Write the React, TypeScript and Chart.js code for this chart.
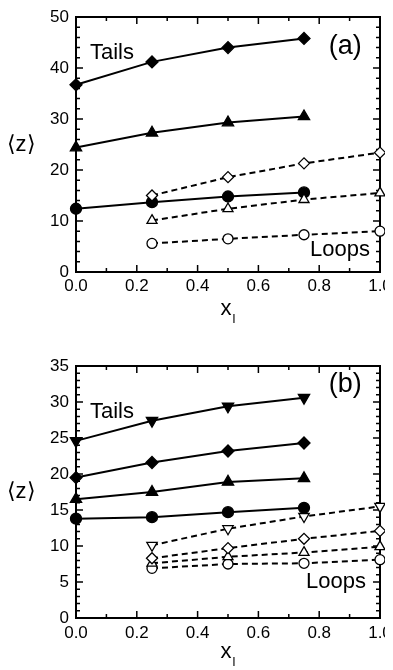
import React, { useEffect, useRef } from "react";
import { Chart, registerables } from "chart.js";

Chart.register(...registerables);

// ---------- data ----------
const X_TAILS = [0, 0.25, 0.5, 0.75];
const X_LOOPS = [0.25, 0.5, 0.75, 1.0];

// panel (a)
const A_TAILS_DIAMOND = [36.7, 41.2, 44.0, 45.8];
const A_TAILS_TRIANGLE = [24.4, 27.3, 29.3, 30.5];
const A_TAILS_CIRCLE = [12.4, 13.7, 14.8, 15.6];
const A_LOOPS_DIAMOND = [15.0, 18.6, 21.3, 23.4];
const A_LOOPS_TRIANGLE = [10.1, 12.4, 14.2, 15.5];
const A_LOOPS_CIRCLE = [5.6, 6.5, 7.3, 8.0];

// panel (b)
const B_TAILS_INVTRI = [24.6, 27.4, 29.4, 30.6];
const B_TAILS_DIAMOND = [19.5, 21.6, 23.2, 24.3];
const B_TAILS_TRIANGLE = [16.5, 17.5, 18.9, 19.4];
const B_TAILS_CIRCLE = [13.8, 14.0, 14.7, 15.3];
const B_LOOPS_INVTRI = [10.1, 12.4, 14.1, 15.5];
const B_LOOPS_DIAMOND = [8.3, 9.7, 11.0, 12.1];
const B_LOOPS_TRIANGLE = [7.6, 8.5, 9.1, 9.9];
const B_LOOPS_CIRCLE = [6.9, 7.5, 7.6, 8.1];

const X_MIN = 0, X_MAX = 1, X_MAJOR = 0.2, X_MINOR = 0.1;
const A_Y_MAX = 50, A_Y_MAJOR = 10, A_Y_MINOR = 2;
const B_Y_MAX = 35, B_Y_MAJOR = 5, B_Y_MINOR = 1;

const FONT = "'Liberation Sans', Arial, Helvetica, sans-serif";
const W = 393, H = 335, AXIS_W = 76, PAD_R = 13;

type Marker = { style: string; rot: number; filled: boolean; r: number };
const M_DIAMOND = (filled: boolean): Marker => ({ style: "rectRot", rot: 0, filled, r: filled ? 6 : 5.5 });
const M_TRI = (filled: boolean): Marker => ({ style: "triangle", rot: 0, filled, r: filled ? 6.5 : 5.8 });
const M_INVTRI = (filled: boolean): Marker => ({ style: "triangle", rot: 180, filled, r: filled ? 6.5 : 6 });
const M_CIRCLE = (filled: boolean): Marker => ({ style: "circle", rot: 0, filled, r: filled ? 5.5 : 5 });

function series(xs: number[], ys: number[], m: Marker, dashed: boolean) {
  return {
    data: xs.map((x, i) => ({ x, y: ys[i] })),
    borderColor: "#000",
    borderWidth: 2,
    borderDash: dashed ? [6, 4] : [],
    pointStyle: m.style,
    rotation: m.rot,
    pointRadius: m.r,
    pointBackgroundColor: m.filled ? "#000" : "#fff",
    pointBorderColor: "#000",
    pointBorderWidth: 1.3,
    tension: 0,
    clip: false,
    fill: false,
  };
}

function drawFrame(chart: any, opts: any) {
  const ctx = chart.ctx;
  const area = chart.chartArea;
  const L = area.left, R = area.right, T = area.top, B = area.bottom;
  const xs = chart.scales.x;
  const ys = chart.scales.y;
  ctx.save();
  ctx.setLineDash([]);
  ctx.strokeStyle = "#000000";
  ctx.lineWidth = 2;
  ctx.strokeRect(L, T, R - L, B - T);
  ctx.lineWidth = 1.5;
  const isMajor = (v: number, step: number) => Math.abs(v / step - Math.round(v / step)) < 1e-6;
  ctx.beginPath();
  const nx = Math.round((X_MAX - X_MIN) / X_MINOR);
  for (let i = 1; i < nx; i++) {
    const v = X_MIN + i * X_MINOR;
    const px = xs.getPixelForValue(v);
    const len = isMajor(v, X_MAJOR) ? 7 : 4;
    ctx.moveTo(px, B);
    ctx.lineTo(px, B - len);
    ctx.moveTo(px, T);
    ctx.lineTo(px, T + len);
  }
  const ny = Math.round(opts.yMax / opts.yMinor);
  for (let i = 1; i < ny; i++) {
    const v = i * opts.yMinor;
    const py = ys.getPixelForValue(v);
    const len = isMajor(v, opts.yMajor) ? 7 : 4;
    ctx.moveTo(L, py);
    ctx.lineTo(L + len, py);
    ctx.moveTo(R, py);
    ctx.lineTo(R - len, py);
  }
  ctx.stroke();
  ctx.restore();
}

const framePlugin = {
  id: "frame",
  beforeDatasetsDraw(chart: any, _a: any, opts: any) {
    drawFrame(chart, opts);
  },
  afterDraw(chart: any, _a: any, opts: any) {
    const ctx = chart.ctx;
    const area = chart.chartArea;
    const xs = chart.scales.x;
    const ys = chart.scales.y;
    ctx.save();
    ctx.fillStyle = "#000";
    for (const t of opts.labels) {
      ctx.font = `${t.size}px ${FONT}`;
      ctx.textAlign = t.align;
      ctx.textBaseline = "middle";
      ctx.fillText(t.text, xs.getPixelForValue(t.x), ys.getPixelForValue(t.y));
    }
    ctx.font = `22px ${FONT}`;
    ctx.textAlign = "center";
    ctx.textBaseline = "middle";
    ctx.fillText("\u27e8z\u27e9", 21, (area.top + area.bottom) / 2);
    const cx = (area.left + area.right) / 2;
    ctx.textAlign = "left";
    ctx.textBaseline = "alphabetic";
    ctx.font = `22px ${FONT}`;
    const w = ctx.measureText("x").width;
    ctx.fillText("x", cx - w / 2 - 2, area.bottom + opts.xTitleOffset);
    ctx.font = `13px ${FONT}`;
    ctx.fillText("l", cx + w / 2 - 1, area.bottom + opts.xTitleOffset + 8);
    ctx.restore();
  },
};

function makeConfig(p: any) {
  return {
    type: "line",
    data: { datasets: p.datasets },
    options: {
      animation: false,
      responsive: false,
      devicePixelRatio: 1,
      events: [],
      layout: { padding: { top: p.padTop, right: PAD_R, left: 0, bottom: 0 } },
      plugins: {
        legend: { display: false },
        tooltip: { enabled: false },
        frame: {
          yMax: p.yMax,
          yMajor: p.yMajor,
          yMinor: p.yMinor,
          labels: p.labels,
          xTitleOffset: p.xTitleOffset,
        },
      },
      scales: {
        x: {
          type: "linear",
          min: X_MIN,
          max: X_MAX,
          grid: { display: false, drawTicks: false },
          border: { display: false },
          ticks: {
            stepSize: X_MAJOR,
            padding: p.xLabelPad,
            color: "#000",
            font: { family: FONT, size: 17 },
            maxRotation: 0,
            autoSkip: false,
            callback: (v: any) => Number(v).toFixed(1),
          },
          afterFit: (s: any) => {
            s.height = p.xHeight;
            s.paddingLeft = 0;
            s.paddingRight = 0;
          },
        },
        y: {
          type: "linear",
          min: 0,
          max: p.yMax,
          grid: { display: false, drawTicks: false },
          border: { display: false },
          ticks: {
            stepSize: p.yMajor,
            padding: 7,
            color: "#000",
            font: { family: FONT, size: 17 },
            autoSkip: false,
          },
          afterFit: (s: any) => {
            s.width = AXIS_W;
            s.paddingTop = 0;
            s.paddingBottom = 0;
          },
        },
      },
    },
    plugins: [framePlugin],
  };
}

const PANEL_A = {
  padTop: 17,
  xHeight: 63,
  xLabelPad: 4,
  xTitleOffset: 43,
  yMax: A_Y_MAX,
  yMajor: A_Y_MAJOR,
  yMinor: A_Y_MINOR,
  labels: [
    { text: "Tails", x: 0.046, y: 43.0, align: "left", size: 22 },
    { text: "(a)", x: 0.94, y: 44.2, align: "right", size: 27 },
    { text: "Loops", x: 0.967, y: 4.3, align: "right", size: 22 },
  ],
  datasets: [
    series(X_TAILS, A_TAILS_DIAMOND, M_DIAMOND(true), false),
    series(X_TAILS, A_TAILS_TRIANGLE, M_TRI(true), false),
    series(X_LOOPS, A_LOOPS_DIAMOND, M_DIAMOND(false), true),
    series(X_LOOPS, A_LOOPS_TRIANGLE, M_TRI(false), true),
    series(X_LOOPS, A_LOOPS_CIRCLE, M_CIRCLE(false), true),
    series(X_TAILS, A_TAILS_CIRCLE, M_CIRCLE(true), false),
  ],
};

const PANEL_B = {
  padTop: 31,
  xHeight: 52,
  xLabelPad: 5,
  xTitleOffset: 40,
  yMax: B_Y_MAX,
  yMajor: B_Y_MAJOR,
  yMinor: B_Y_MINOR,
  labels: [
    { text: "Tails", x: 0.046, y: 28.6, align: "left", size: 22 },
    { text: "(b)", x: 0.94, y: 32.4, align: "right", size: 27 },
    { text: "Loops", x: 0.954, y: 5.0, align: "right", size: 22 },
  ],
  datasets: [
    series(X_LOOPS, B_LOOPS_INVTRI, M_INVTRI(false), true),
    series(X_LOOPS, B_LOOPS_DIAMOND, M_DIAMOND(false), true),
    series(X_LOOPS, B_LOOPS_TRIANGLE, M_TRI(false), true),
    series(X_LOOPS, B_LOOPS_CIRCLE, M_CIRCLE(false), true),
    series(X_TAILS, B_TAILS_INVTRI, M_INVTRI(true), false),
    series(X_TAILS, B_TAILS_DIAMOND, M_DIAMOND(true), false),
    series(X_TAILS, B_TAILS_TRIANGLE, M_TRI(true), false),
    series(X_TAILS, B_TAILS_CIRCLE, M_CIRCLE(true), false),
  ],
};

function Panel({ cfg }: { cfg: any }) {
  const ref = useRef<HTMLCanvasElement>(null);
  useEffect(() => {
    const chart = new Chart(ref.current as HTMLCanvasElement, makeConfig(cfg) as any);
    return () => chart.destroy();
  }, [cfg]);
  return <canvas ref={ref} width={W} height={H} style={{ display: "block", width: W, height: H }} />;
}

export default function App() {
  return (
    <div style={{ marginLeft: -8, marginTop: -8, width: W, height: 670 }}>
      <Panel cfg={PANEL_A} />
      <Panel cfg={PANEL_B} />
    </div>
  );
}
